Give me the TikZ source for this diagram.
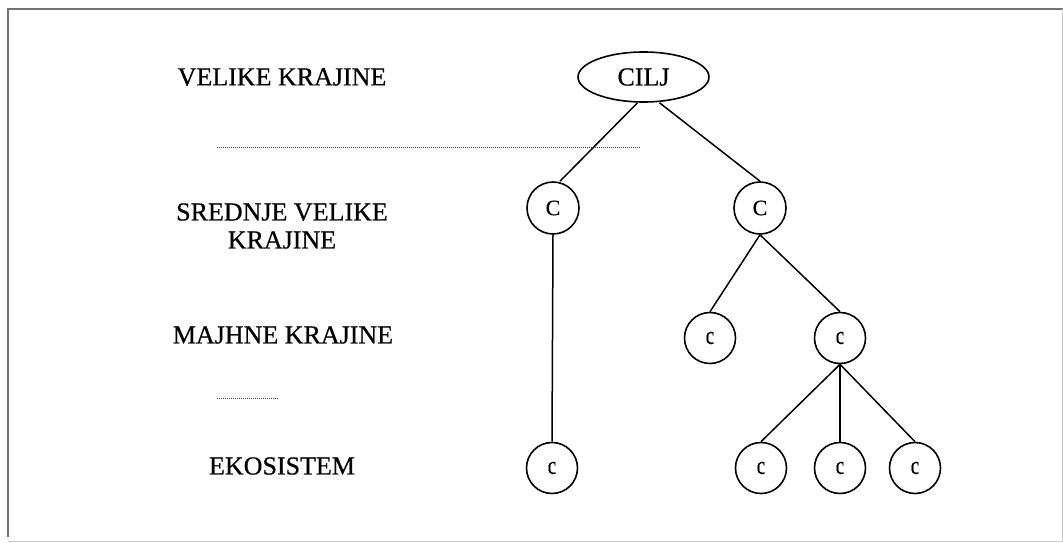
\documentclass[tikz,border=0pt]{standalone}
\usepackage{fontspec}
\setmainfont{Liberation Serif}
\newfontfamily\heavyserif[FakeBold=0.6]{Liberation Serif}
\usetikzlibrary{shapes.geometric,calc}
\begin{document}
\begin{tikzpicture}[x=1pt,y=-1pt,
  lvl/.style={font=\heavyserif\fontsize{26}{30}\selectfont, align=center, inner sep=0pt},
  goal/.style={draw, ellipse, line width=1.6pt, minimum width=131pt, minimum height=50pt, inner sep=0pt, font=\heavyserif\fontsize{26}{30}\selectfont},
  bigc/.style={draw, circle, line width=1.6pt, minimum size=52pt, inner sep=0pt, font=\heavyserif\fontsize{22}{26}\selectfont},
  smallc/.style={draw, circle, line width=1.6pt, minimum size=51pt, inner sep=0pt, font=\heavyserif\fontsize{19}{22}\selectfont},
  link/.style={line width=1.5pt},
  sep/.style={line width=1pt, dash pattern=on 1pt off 1pt, black!75}]
  % page area and frame
  \useasboundingbox (0,0) rectangle (1063,543);
  \fill[white] (0,0) rectangle (1063,543);
  \draw[black!55, line width=1.2pt] (8,537) -- (8,9) -- (1063,9);
  \draw[black!20, line width=1pt] (1062,9) -- (1062,541) -- (8,541);

  % level labels
  \node[lvl] (l1) at (282,77) {VELIKE KRAJINE};
  \node[lvl] (l2) at (282,226) {SREDNJE VELIKE\\[-2pt]KRAJINE};
  \node[lvl] (l3) at (283,335) {MAJHNE KRAJINE};
  \node[lvl] (l4) at (282,466) {EKOSISTEM};

  % separators between levels
  \coordinate (s1a) at (217,147);
  \coordinate (s1b) at (640,147);
  \coordinate (s2a) at (217,398);
  \coordinate (s2b) at (278,398);
  \draw[sep] (s1a) -- (s1b);
  \draw[sep] (s2a) -- (s2b);

  % hierarchy
  \node[goal] (goal) at (643.5,77) {CILJ};
  \node[bigc] (m1) at (553,208) {C};
  \node[bigc] (m2) at (760,208) {C};
  \node[smallc] (s1) at (710,338) {\scalebox{1}[1.35]{c}};
  \node[smallc] (s2) at (840,338) {\scalebox{1}[1.35]{c}};
  \node[smallc] (e1) at (552,468) {\scalebox{1}[1.35]{c}};
  \node[smallc] (e2) at (761,468) {\scalebox{1}[1.35]{c}};
  \node[smallc] (e3) at (840,468) {\scalebox{1}[1.35]{c}};
  \node[smallc] (e4) at (915,468) {\scalebox{1}[1.35]{c}};

  \draw[link] ($(goal.south)+(-6,0)$) -- ($(m1.north)+(7,0)$);
  \draw[link] ($(goal.south)+(16,0)$) -- (m2.north);
  \draw[link] (m1.south) -- (e1.north);
  \draw[link] (m2.south) -- (s1.north);
  \draw[link] (m2.south) -- (s2.north);
  \draw[link] (s2.south) -- (e2.north);
  \draw[link] (s2.south) -- (e3.north);
  \draw[link] (s2.south) -- (e4.north);
\end{tikzpicture}
\end{document}
